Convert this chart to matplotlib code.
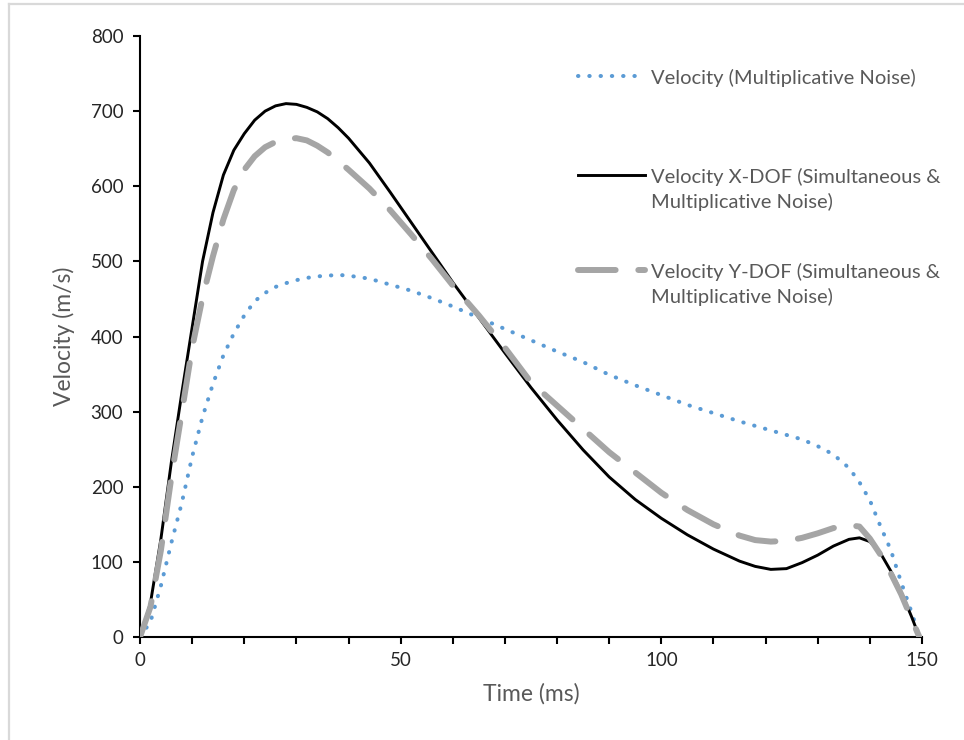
import matplotlib
matplotlib.use("Agg")
import matplotlib.pyplot as plt
from matplotlib.lines import Line2D
from matplotlib.ticker import MultipleLocator

plt.rcParams['font.family'] = ['Lato', 'DejaVu Sans']

# time points (ms)
t = [0, 2, 4, 6, 8, 10, 12, 14, 16, 18, 20, 22, 24, 26, 28, 30, 32, 34, 36, 38,
     40, 44, 48, 52, 56, 60, 65, 70, 75, 80, 85, 90, 95, 100, 105, 110, 115, 118,
     121, 124, 127, 130, 133, 136, 138, 140, 142, 144, 146, 148, 149.5]

# Velocity (Multiplicative Noise)
v_mult = [0, 20, 68, 125, 178, 240, 293, 337, 375, 404, 428, 447, 458, 466, 471, 475,
          478, 480, 481, 482, 481, 477, 469, 461, 451, 440, 425, 410, 395, 380, 366,
          349, 335, 322, 309, 298, 287, 281, 275, 269, 263, 254, 243, 225, 206, 182,
          148, 116, 73, 33, 0]

# Velocity X-DOF (Simultaneous & Multiplicative Noise)
v_x = [0, 45, 130, 232, 324, 412, 500, 565, 615, 648, 670, 688, 700, 707, 710, 709,
       705, 699, 690, 678, 664, 631, 592, 552, 512, 472, 425, 378, 332, 289, 249,
       213, 183, 158, 136, 117, 101, 94, 90, 91, 99, 109, 121, 130, 132, 127, 112,
       88, 60, 27, 0]

# Velocity Y-DOF (Simultaneous & Multiplicative Noise)
v_y = [0, 40, 115, 212, 298, 385, 452, 507, 556, 595, 622, 640, 652, 659, 663, 664,
       661, 654, 645, 634, 622, 597, 568, 536, 503, 468, 428, 385, 339, 308, 277,
       246, 219, 192, 169, 150, 135, 129, 127, 128, 132, 138, 145, 149, 147, 131,
       110, 85, 57, 24, 0]

labels = ["Velocity (Multiplicative Noise)",
          "Velocity X-DOF (Simultaneous &\nMultiplicative Noise)",
          "Velocity Y-DOF (Simultaneous &\nMultiplicative Noise)"]

fig = plt.figure(figsize=(9.64, 7.40), dpi=100)
ax = fig.add_axes([140/964, 103/740, 782/964, 601/740])

l1, = ax.plot(t, v_mult, color='#5B9BD5', lw=2.9, linestyle=(0, (0.1, 2.7)),
              dash_capstyle='round', label=labels[0], zorder=3)
l2, = ax.plot(t, v_x, color='black', lw=2.1, label=labels[1], zorder=4)
l3, = ax.plot(t, v_y, color='#A5A5A5', lw=4.3, linestyle=(0, (6.3, 3.8)),
              dash_capstyle='round', label=labels[2], zorder=5)

ax.set_xlim(0, 150)
ax.set_ylim(0, 800)
ax.xaxis.set_major_locator(MultipleLocator(50))
ax.xaxis.set_minor_locator(MultipleLocator(10))
ax.yaxis.set_major_locator(MultipleLocator(100))
for s in ['top', 'right']:
    ax.spines[s].set_visible(False)
for s in ['left', 'bottom']:
    ax.spines[s].set_linewidth(1.5)
ax.tick_params(which='both', direction='out', length=5, width=1.5, colors='black',
               labelsize=13.5, labelcolor='#262626')
ax.tick_params(axis='x', pad=6)
ax.tick_params(axis='y', pad=7)

ax.set_xlabel("Time (ms)", fontsize=16.5, color='#595959', labelpad=10)
ax.set_ylabel("Velocity (m/s)", fontsize=16.5, color='#595959', labelpad=11)

# legend entries stacked like the original, sample line level with the first text line
pos = [0.958, 0.794, 0.636]
for h, lab, y in zip([l1, l2, l3], labels, pos):
    lg = ax.legend([h], [lab], loc='upper left', bbox_to_anchor=(0.55, y),
                   frameon=False, fontsize=14.5, handlelength=3.3, handletextpad=0.3,
                   labelcolor='#595959', borderaxespad=0)
    for txt in lg.get_texts():
        txt.set_linespacing(1.45)
    try:
        for col in lg._legend_handle_box.get_children():
            for row in col.get_children():
                row.align = 'top'
    except AttributeError:
        pass
    ax.add_artist(lg)
ax.legend_ = None  # last one is already added as an artist

# light chart-area border
fig.add_artist(Line2D([9/964, 9/964], [0, 1 - 4/740], transform=fig.transFigure,
                      color='#D9D9D9', lw=1.6))
fig.add_artist(Line2D([9/964, 1], [1 - 4/740, 1 - 4/740], transform=fig.transFigure,
                      color='#D9D9D9', lw=1.6))

fig.savefig("out.png", dpi=100)
